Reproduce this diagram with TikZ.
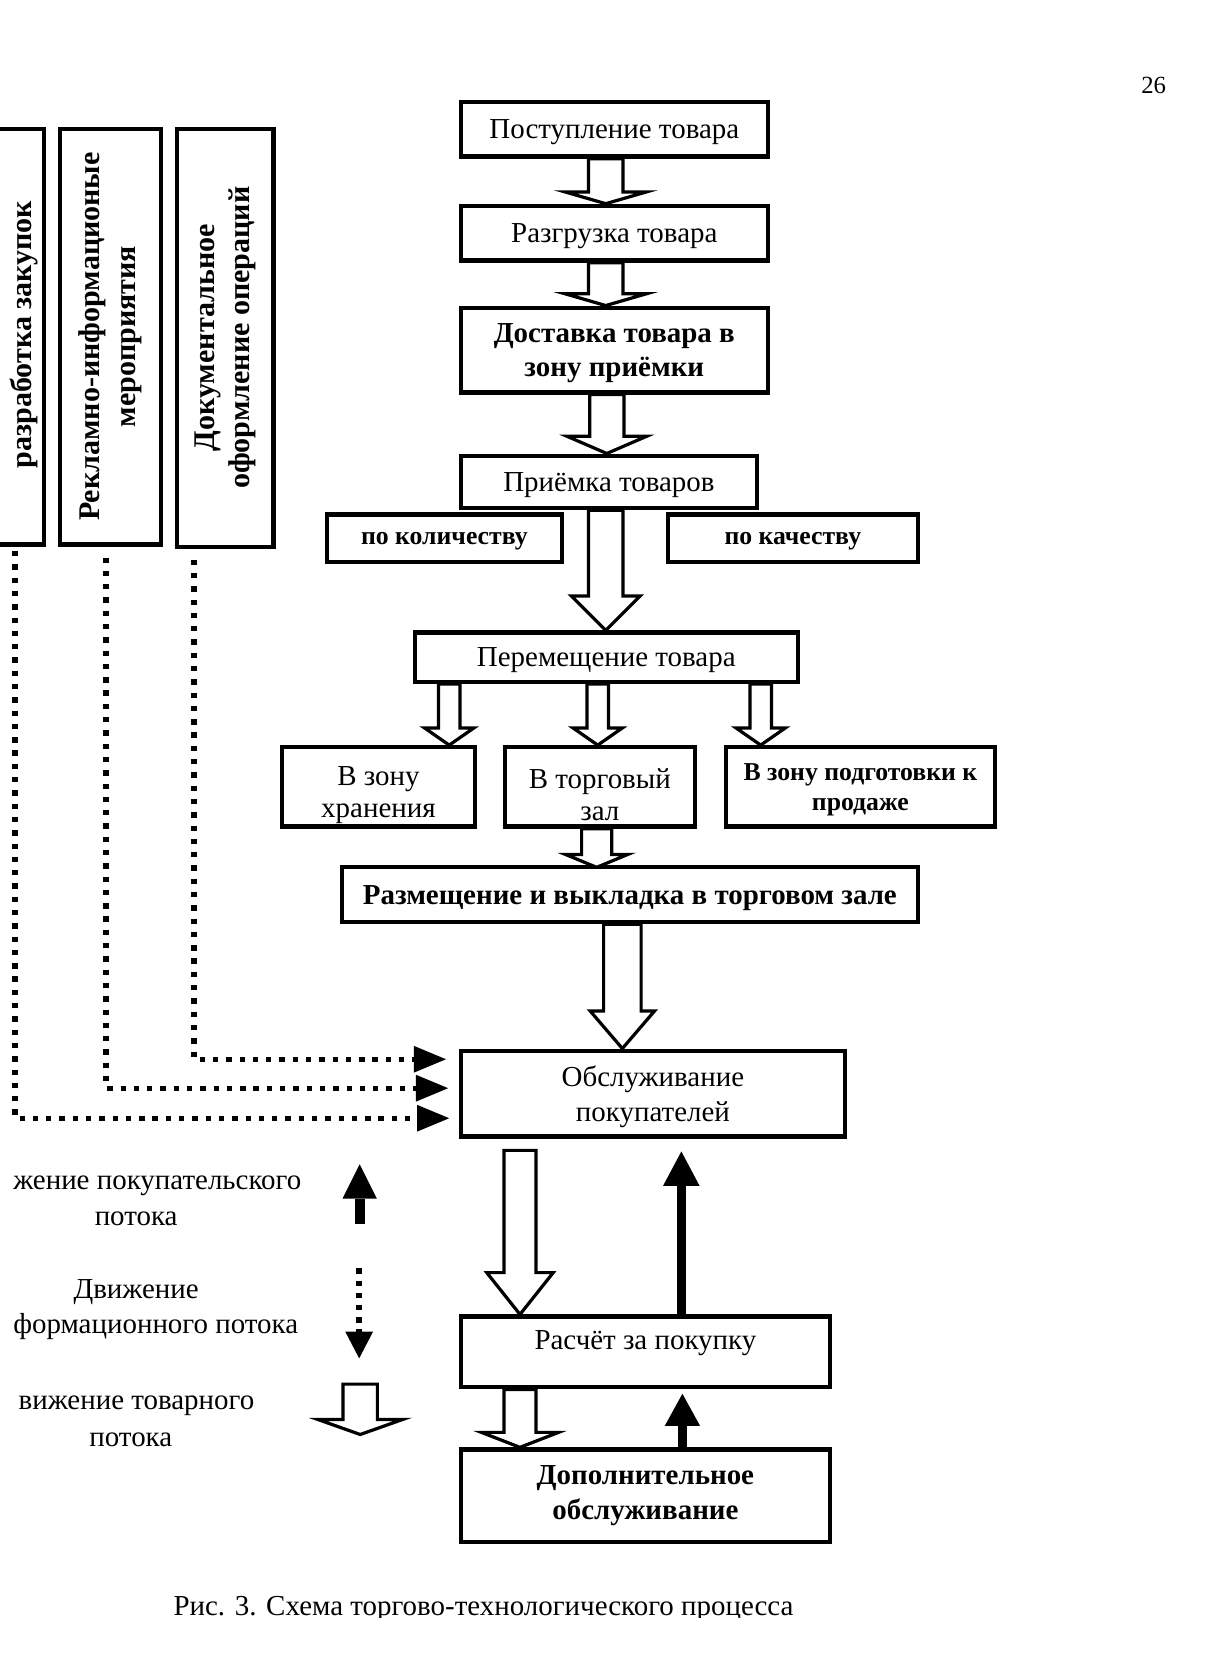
\documentclass[tikz,border=0pt]{standalone}
\usepackage{fontspec}
\setmainfont{Liberation Serif}
\usetikzlibrary{arrows.meta,calc}
\newcommand{\regf}{\fontsize{13.5}{16}\selectfont}
\newcommand{\regfs}{\fontsize{13.5}{15}\selectfont}
\newcommand{\boldf}{\bfseries\fontsize{13.5}{16}\selectfont}
\newcommand{\smallbf}{\bfseries\fontsize{12}{14}\selectfont}
\newcommand{\vertf}{\bfseries\fontsize{14}{16.5}\selectfont}
\newcommand{\pagef}{\fontsize{11.5}{13}\selectfont}
\newcommand{\harr}[5]{%
  \draw[blockarr] let \p1=#1, \p2=#2 in
    (\x1-#3,\y1) -- (\x1-#3,\y2+#5) -- (\x1-#4,\y2+#5) -- (\x1,\y2)
    -- (\x1+#4,\y2+#5) -- (\x1+#3,\y2+#5) -- (\x1+#3,\y1) -- cycle;}
\tikzset{
  bx/.style={draw, line width=2pt, inner sep=1pt, align=center, font=\regf},
  lowtxt/.style={text depth=0pt},
  legtxt/.style={font=\regf, inner sep=0pt},
  blockarr/.style={draw, fill=white, line width=1.5pt, line join=miter},
  dotline/.style={line width=2.5pt, dash pattern=on 2.5pt off 3.7pt,
    -{Triangle[length=15pt,width=12.5pt,line width=0pt]}},
  dotleg/.style={line width=2.5pt, dash pattern=on 2.5pt off 3.2pt,
    -{Triangle[length=12.5pt,width=13pt,line width=0pt]}},
  solidarr/.style={line width=4.5pt, -{Triangle[length=16pt,width=17pt,line width=0pt]}},
}
\begin{document}
\begin{tikzpicture}[x=0.5pt,y=-0.5pt]
\useasboundingbox (0,0) rectangle (1142,1567);
\clip (0,0) rectangle (1142,1567);

% page number
\node[font=\pagef] (pg) at (1076,80) {26};

% main column
\node[bx, lowtxt, minimum width=143pt, minimum height=25.5pt] (B1) at (573,120.5) {Поступление товара};
\node[bx, lowtxt, minimum width=143pt, minimum height=25.5pt] (B2) at (573,217.5) {Разгрузка товара};
\node[bx, lowtxt, font=\boldf, minimum width=143pt, minimum height=39.5pt] (B3) at (573,326.5) {Доставка товара в\\зону приёмки};
\node[bx, lowtxt, minimum width=138pt, minimum height=24.5pt] (B4) at (568,449.5) {Приёмка товаров};
\node[bx, lowtxt, font=\smallbf, minimum width=109.5pt, minimum height=22pt] (Q1) at (414.5,502) {по количеству};
\node[bx, lowtxt, font=\smallbf, minimum width=116.5pt, minimum height=22pt] (Q2) at (739.5,502) {по качеству};
\node[bx, lowtxt, minimum width=178.5pt, minimum height=23pt] (B5) at (565.5,613) {Перемещение товара};
\node[bx, minimum width=90pt, minimum height=37pt] (B6) at (353,734) {};
\node[bx, minimum width=88.5pt, minimum height=37pt] (B7) at (559.5,734) {};
\begin{scope}
  \clip (B6.south west) rectangle (B6.north east);
  \node[font=\regfs, align=center] (B6t) at (353,742) {В зону\\хранения};
\end{scope}
\begin{scope}
  \clip (B7.south west) rectangle (B7.north east);
  \node[font=\regfs, align=center] (B7t) at (559.5,741) {В торговый\\зал};
\end{scope}
\node[bx, lowtxt, font=\smallbf, minimum width=125.5pt, minimum height=37pt] (B8) at (802.5,734) {В зону подготовки к\\продаже};
\node[bx, lowtxt, font=\boldf, minimum width=268.5pt, minimum height=25.5pt] (B9) at (587.5,834.5) {Размещение и выкладка в торговом зале};
\node[bx, lowtxt, minimum width=179pt, minimum height=40pt] (B10) at (609,1020) {Обслуживание\\покупателей};
\node[bx, minimum width=172pt, minimum height=33pt] (B11) at (602,1261) {};
\node[font=\regf] (B11t) at (602,1253) {Расчёт за покупку};
\node[bx, font=\boldf, minimum width=172pt, minimum height=43pt] (B12) at (602,1395) {Дополнительное\\обслуживание};

% left vertical boxes
\node[draw, line width=2pt, minimum width=35pt, minimum height=194pt] (L1) at (6,314) {};
\node[rotate=90, font=\vertf] (L1t) at (22,312) {разработка закупок};
\node[bx, rotate=90, font=\vertf, minimum width=194pt, minimum height=47pt] (L2) at (103,314) {Рекламно-информационые\\мероприятия};
\node[bx, rotate=90, font=\vertf, minimum width=195pt, minimum height=45pt] (L3) at (210,315) {Документальное\\оформление операций};

% hollow block arrows (goods flow)
\harr{($(B1.south)+(-8,0)$)}{(B2.north)}{8pt}{19pt}{5.5pt}
\harr{($(B2.south)+(-8,0)$)}{(B3.north)}{8pt}{19pt}{5.5pt}
\harr{($(B3.south)+(-7,0)$)}{(B4.north)}{8pt}{18.5pt}{8pt}
\harr{($(B4.south)+(-3,0)$)}{(B5.north)}{8pt}{16pt}{16pt}
\harr{($(B5.south)+(-146.5,0)$)}{(B6.north)}{5pt}{11.5pt}{8pt}
\harr{($(B5.south)+(-8,0)$)}{(B7.north)}{5pt}{11.5pt}{8pt}
\harr{($(B5.south)+(144,0)$)}{(B8.north)}{5pt}{11.5pt}{8pt}
\harr{($(B7.south)+(-3,0)$)}{($(B9.north)+(0,2)$)}{7pt}{14.5pt}{6pt}
\harr{($(B9.south)+(-7,0)$)}{(B10.north)}{8.75pt}{15pt}{17.5pt}
\harr{($(B10.south)+(-124,11)$)}{(B11.north)}{7.5pt}{15.5pt}{19.5pt}
\harr{($(B11.south)+(-117,0)$)}{(B12.north)}{7.5pt}{18pt}{7pt}

% customer flow (black arrows)
\draw[solidarr] ($(B11.north)+(33.5,0)$) -- ($(B10.south)+(26.5,12)$);
\draw[line width=4.5pt, -{Triangle[length=15pt,width=16.5pt,line width=0pt]}] ($(B12.north)+(34.5,0)$) -- ($(B11.south)+(34.5,4)$);

% information flow (dotted)
\coordinate (e1) at ($(B10.west)+(-12,-32)$);
\coordinate (e2) at ($(B10.west)+(-10,-5)$);
\coordinate (e3) at ($(B10.west)+(-9,23)$);
\draw[dotline] ($(L1.south)+(8,4)$) |- (e3);
\draw[dotline] ($(L2.west)+(-4,10)$) |- (e2);
\draw[dotline] ($(L3.west)+(-29,10)$) |- (e1);

% legend
\node[legtxt, anchor=west] (lg1a) at (12,1106) {жение покупательского};
\node[legtxt] (lg1b) at (127,1137) {потока};
\node[legtxt] (lg2a) at (127,1205) {Движение};
\node[legtxt, anchor=west] (lg2b) at (12,1237) {формационного потока};
\node[legtxt, anchor=west] (lg3a) at (17,1311) {вижение товарного};
\node[legtxt] (lg3b) at (122,1343) {потока};
\coordinate (lb1) at (335.5,1142);
\coordinate (lb2) at (335.5,1086);
\draw[line width=4.5pt, -{Triangle[length=16pt,width=16pt,line width=0pt]}] (lb1) -- (lb2);
\coordinate (ld1) at (335,1183);
\coordinate (ld2) at (335,1267);
\draw[dotleg] (ld1) -- (ld2);
\coordinate (lh1) at (336,1291);
\coordinate (lh2) at (336,1338);
\harr{(lh1)}{(lh2)}{8pt}{19.75pt}{7pt}

% caption
\begin{scope}
  \clip (0,1470) rectangle (1142,1509);
  \node[font=\regf, anchor=base] (cap) at (451,1507) {Рис. 3. Схема торгово-технологического процесса};
\end{scope}
\end{tikzpicture}
\end{document}
